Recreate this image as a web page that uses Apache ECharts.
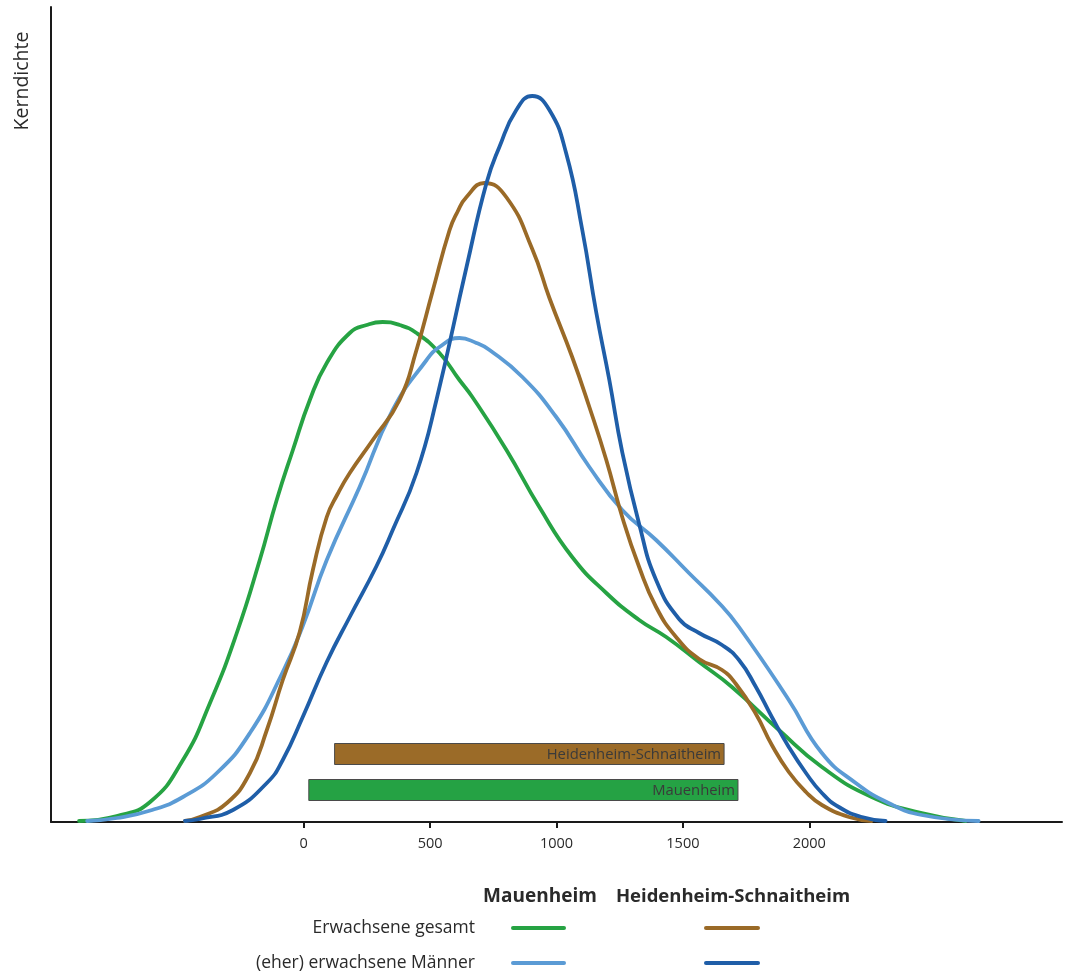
<!DOCTYPE html>
<html>
<head>
<meta charset="utf-8">
<script src="https://cdn.jsdelivr.net/npm/echarts@6/dist/echarts.min.js"></script>
<style>
  html, body { margin: 0; padding: 0; background: #ffffff; }
  #chart { width: 1066px; height: 973px; }
</style>
</head>
<body>
<div id="chart"></div>
<script>
// Kernel density estimates (relative units), x in years
const mauenheimGesamt = [
  [-889,1],[-740,6],[-608,20],[-478,62],[-371,119],[-265,189],[-174,262],[-107,322],
  [-43,372],[24,422],[91,459],[182,489],[249,497],[312,500],[379,497],[446,489],
  [537,469],[616,442],[667,425],[802,372],[932,315],[1062,265],[1197,229],[1327,202],
  [1434,185],[1564,160],[1694,135],[1880,92],[2050,55],[2247,25],[2445,9],[2619,1]
];
const mauenheimMaenner = [
  [-857,1],[-739,4],[-600,12],[-478,25],[-344,49],[-213,89],[-83,150],[-4,196],
  [91,262],[221,335],[352,412],[486,462],[537,475],[616,484],[683,479],[735,472],
  [865,445],[999,405],[1130,355],[1260,312],[1394,282],[1524,249],[1643,219],[1722,195],
  [1919,122],[2050,69],[2184,39],[2314,19],[2445,7],[2670,1]
];
const heidenheimGesamt = [
  [-470,1],[-411,5],[-304,19],[-213,49],[-146,92],[-83,142],[-16,190],[36,252],
  [91,305],[134,328],[182,349],[273,382],[379,422],[446,472],[509,530],[577,592],
  [608,610],[644,625],[715,639],[801,625],[904,573],[972,524],[1062,465],[1130,415],
  [1197,362],[1260,305],[1327,255],[1394,215],[1473,185],[1564,163],[1655,152],[1710,138],
  [1789,108],[1852,77],[1919,50],[1987,30],[2050,17],[2157,5],[2247,1]
];
const heidenheimMaenner = [
  [-470,1],[-411,3],[-280,12],[-146,39],[-83,62],[-4,105],[91,160],[182,205],
  [288,256],[352,292],[446,349],[525,422],[644,555],[723,639],[774,675],[841,712],
  [904,726],[972,712],[1038,669],[1102,592],[1157,510],[1209,442],[1260,370],[1327,298],
  [1394,242],[1485,203],[1564,189],[1655,177],[1722,162],[1789,135],[1852,105],[1919,75],
  [1987,49],[2050,29],[2117,15],[2208,5],[2302,1]
];

// Occupation spans: [start, end, level]
const spanNames = ['Heidenheim-Schnaitheim', 'Mauenheim'];
const spanValues = [[122, 1663, 68], [20, 1718, 32]];

const xTicks = [0, 500, 1000, 1500, 2000];

const colGreen = '#26a343';
const colBrown = '#9a6a27';
const colLight = '#5b9bd5';
const colDark = '#1f5ea8';
const barFill = ['#9b6b28', '#25a244'];

const font = '"Open Sans", "Noto Sans", sans-serif';
const textCol = '#2a2a2a';

function densityLine(name, data, color) {
  return {
    name: name,
    type: 'line',
    data: data,
    smooth: 0.5,
    showSymbol: false,
    silent: true,
    lineStyle: { color: color, width: 3.8, cap: 'round', join: 'round' },
    z: 3
  };
}

const chart = echarts.init(document.getElementById('chart'), null, { renderer: 'canvas' });

const option = {
  backgroundColor: '#ffffff',
  animation: false,
  grid: { left: 51, right: 4, top: 7, bottom: 151 },
  xAxis: {
    type: 'value',
    min: -1000,
    max: 3000,
    interval: 500,
    splitLine: { show: false },
    axisLine: { show: true, onZero: false, lineStyle: { color: '#1a1a1a', width: 2 } },
    axisTick: { show: true, customValues: xTicks, length: 6, lineStyle: { color: '#1a1a1a', width: 2 } },
    axisLabel: {
      customValues: xTicks,
      formatter: function (v) { return String(v); },
      fontFamily: font, fontSize: 14.5, color: textCol, margin: 14
    }
  },
  yAxis: {
    type: 'value',
    min: 0,
    max: 815,
    splitLine: { show: false },
    axisLine: { show: true, onZero: false, lineStyle: { color: '#1a1a1a', width: 2 } },
    axisTick: { show: false },
    axisLabel: { show: false }
  },
  series: [
    {
      type: 'custom',
      silent: true,
      data: spanValues,
      encode: { x: [0, 1], y: 2 },
      z: 2,
      renderItem: function (params, api) {
        const a = api.coord([api.value(0), api.value(2)]);
        const b = api.coord([api.value(1), api.value(2)]);
        const h = 21;
        return {
          type: 'group',
          children: [
            {
              type: 'rect',
              shape: { x: a[0], y: a[1] - h / 2, width: b[0] - a[0], height: h },
              style: { fill: barFill[params.dataIndex], stroke: '#4a4a4a', lineWidth: 1 }
            },
            {
              type: 'text',
              style: {
                x: b[0] - 3, y: a[1] + 1,
                text: spanNames[params.dataIndex],
                align: 'right', verticalAlign: 'middle',
                fill: '#3a3a3a', font: '14.8px ' + font
              }
            }
          ]
        };
      }
    },
    densityLine('Mauenheim – Erwachsene gesamt', mauenheimGesamt, colGreen),
    densityLine('Mauenheim – (eher) erwachsene Männer', mauenheimMaenner, colLight),
    densityLine('Heidenheim-Schnaitheim – Erwachsene gesamt', heidenheimGesamt, colBrown),
    densityLine('Heidenheim-Schnaitheim – (eher) erwachsene Männer', heidenheimMaenner, colDark)
  ],
  graphic: [
    {
      type: 'text', x: 22, y: 81, rotation: Math.PI / 2,
      style: { text: 'Kerndichte', font: '19.5px ' + font, fill: textCol, align: 'center', verticalAlign: 'middle' }
    },
    { type: 'text', x: 540, y: 897, style: { text: 'Mauenheim', font: 'bold 19px ' + font, fill: textCol, align: 'center', verticalAlign: 'middle' } },
    { type: 'text', x: 733, y: 897, style: { text: 'Heidenheim-Schnaitheim', font: 'bold 18.5px ' + font, fill: textCol, align: 'center', verticalAlign: 'middle' } },
    { type: 'text', x: 475, y: 928, style: { text: 'Erwachsene gesamt', font: '17.5px ' + font, fill: textCol, align: 'right', verticalAlign: 'middle' } },
    { type: 'text', x: 475, y: 963, style: { text: '(eher) erwachsene Männer', font: '17.5px ' + font, fill: textCol, align: 'right', verticalAlign: 'middle' } },
    { type: 'line', shape: { x1: 513, y1: 928, x2: 564, y2: 928 }, style: { stroke: colGreen, lineWidth: 4, lineCap: 'round' } },
    { type: 'line', shape: { x1: 706, y1: 928, x2: 758, y2: 928 }, style: { stroke: colBrown, lineWidth: 4, lineCap: 'round' } },
    { type: 'line', shape: { x1: 513, y1: 963, x2: 564, y2: 963 }, style: { stroke: colLight, lineWidth: 4, lineCap: 'round' } },
    { type: 'line', shape: { x1: 706, y1: 963, x2: 758, y2: 963 }, style: { stroke: colDark, lineWidth: 4, lineCap: 'round' } }
  ]
};

chart.setOption(option);
</script>
</body>
</html>
